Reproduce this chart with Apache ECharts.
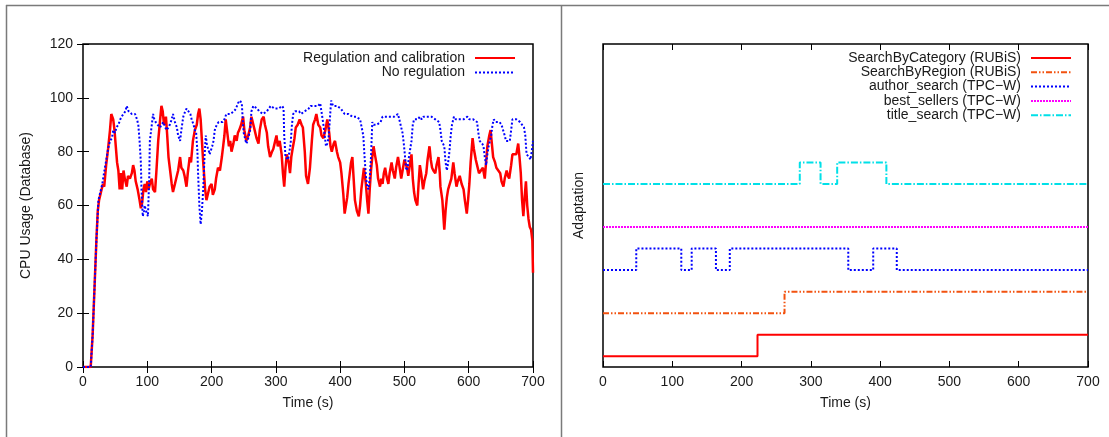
<!DOCTYPE html>
<html>
<head>
<meta charset="utf-8">
<title>CPU usage and adaptation</title>
<script src="https://cdn.jsdelivr.net/npm/echarts@6/dist/echarts.min.js"></script>
<style>
  html, body { margin: 0; padding: 0; background: #fff; }
  #chart { width: 1109px; height: 437px; }
</style>
</head>
<body>
<div id="chart"></div>
<script>
// x ticks shared by both panels
const timeTicks = [0, 100, 200, 300, 400, 500, 600, 700];

// left panel: CPU usage of the database, [time (s), usage]
const regulationCpu = [
  [0,0],[5,0],[12,0],[15,12],[18,30],[21,48],[23,58],[25,62],[28,65],[31,68],[33,67],[36,75],[39,81],[42,88],[44,94],[47,92],[49,88],[51,82],[53,76],[55,73],[57,66],[59,72],[61,66],[63,73],[65,70],[68,67],[70,71],[73,70],[76,72],[78,75],[80,73],[82,69],[85,66],[88,62],[90,59],[92,61],[94,66],[96,68],[98,65],[100,69],[102,66],[104,68],[107,70],[109,66],[112,65],[114,72],[117,84],[120,92],[122,97],[124,95],[126,90],[129,93],[131,86],[133,78],[136,72],[138,68],[140,65],[143,68],[145,70],[148,73],[151,78],[153,74],[156,73],[158,71],[161,67],[163,72],[166,78],[168,76],[171,84],[174,88],[177,90],[179,94],[181,96],[183,92],[185,84],[187,76],[190,66],[192,62],[194,64],[197,67],[200,68],[202,64],[205,66],[207,70],[210,74],[213,73],[216,78],[218,82],[220,86],[222,92],[224,88],[227,82],[229,84],[231,80],[234,83],[236,86],[239,84],[241,87],[243,88],[246,90],[249,93],[251,88],[254,84],[257,86],[260,89],[262,93],[265,90],[267,88],[270,85],[273,83],[275,88],[278,92],[281,93],[283,90],[286,87],[288,82],[291,78],[294,80],[296,81],[299,84],[301,86],[303,82],[306,84],[309,79],[311,72],[313,67],[315,74],[317,79],[320,76],[322,72],[324,78],[326,81],[329,85],[331,89],[334,90],[337,92],[340,90],[342,89],[345,80],[347,71],[350,68],[353,74],[356,84],[358,90],[361,92],[363,94],[366,90],[369,89],[371,86],[374,85],[377,88],[380,92],[383,87],[385,82],[387,80],[390,83],[392,84],[395,80],[397,78],[400,76],[402,72],[405,64],[407,57],[409,60],[411,63],[413,68],[415,72],[417,76],[419,78],[421,70],[423,62],[426,58],[429,56],[431,60],[433,66],[435,70],[437,74],[440,68],[442,62],[444,57],[446,66],[448,73],[450,78],[452,82],[454,79],[457,75],[459,70],[462,67],[464,70],[466,68],[468,72],[470,74],[472,71],[475,68],[477,72],[480,76],[482,73],[485,70],[487,74],[490,78],[492,75],[495,70],[497,70],[500,77],[502,77],[504,74],[506,71],[509,76],[511,79],[513,70],[515,65],[517,62],[520,60],[522,68],[524,75],[526,72],[529,66],[531,69],[534,72],[536,77],[539,82],[541,77],[543,74],[545,73],[548,72],[550,75],[553,78],[555,72],[556,67],[559,62],[562,51],[564,58],[566,63],[568,66],[571,66],[573,70],[576,76],[578,72],[581,67],[583,69],[586,71],[589,68],[592,66],[594,62],[597,57],[599,62],[601,68],[603,76],[606,85],[608,81],[611,77],[613,75],[616,72],[619,73],[622,74],[625,70],[627,76],[629,82],[632,86],[634,88],[636,83],[638,78],[641,76],[643,74],[646,73],[649,72],[651,69],[654,67],[656,70],[659,73],[661,71],[663,70],[666,75],[668,79],[671,79],[674,79],[677,83],[679,78],[681,72],[683,62],[685,56],[687,63],[689,69],[691,60],[693,55],[695,52],[697,51],[699,47],[700,35]
];
const noRegulationCpu = [
  [0,0],[5,0],[12,0],[15,12],[18,30],[21,48],[24,62],[27,65],[30,68],[34,74],[37,78],[39,81],[42,84],[45,85],[47,88],[50,87],[52,89],[55,90],[58,92],[60,93],[63,94],[66,95],[68,97],[71,95],[73,95],[76,94],[79,94],[81,94],[84,92],[86,90],[88,84],[90,76],[91,66],[93,56],[95,58],[96,60],[98,58],[101,56],[103,70],[104,84],[107,90],[109,94],[111,92],[113,91],[116,90],[120,89],[122,90],[125,91],[128,89],[130,88],[133,89],[135,90],[138,92],[140,94],[143,91],[146,89],[148,86],[151,84],[153,88],[156,93],[159,95],[161,96],[164,95],[167,94],[169,92],[172,90],[174,88],[176,87],[178,80],[179,72],[181,60],[183,53],[185,58],[187,66],[189,78],[191,86],[193,82],[195,81],[197,79],[199,79],[201,82],[203,84],[205,88],[208,90],[211,91],[214,91],[217,91],[220,92],[223,94],[226,94],[229,94],[232,94],[235,95],[238,96],[241,98],[244,99],[247,98],[249,90],[250,87],[252,85],[254,83],[256,84],[258,86],[260,88],[262,95],[265,97],[268,97],[271,96],[274,95],[277,95],[280,94],[283,94],[286,95],[289,96],[292,97],[295,97],[298,96],[301,96],[304,96],[307,96],[310,97],[312,96],[313,86],[315,78],[317,78],[319,77],[321,80],[323,83],[325,90],[327,94],[330,95],[333,95],[336,95],[339,94],[342,94],[345,95],[348,95],[351,96],[354,97],[357,97],[360,97],[363,97],[366,97],[369,98],[372,98],[374,90],[376,86],[378,82],[380,83],[382,85],[384,92],[386,99],[389,97],[392,97],[395,97],[398,97],[401,96],[404,95],[407,94],[410,94],[413,94],[416,94],[419,93],[422,93],[425,93],[428,93],[431,92],[434,92],[436,86],[438,78],[440,71],[442,67],[444,66],[446,70],[448,78],[450,91],[452,90],[454,90],[457,90],[460,90],[463,91],[466,93],[469,93],[472,93],[475,93],[478,93],[481,93],[484,93],[487,93],[490,94],[493,94],[495,89],[497,87],[499,83],[501,78],[503,73],[505,74],[507,78],[509,81],[511,84],[513,90],[515,92],[518,92],[521,92],[524,93],[527,92],[530,93],[533,93],[536,93],[539,93],[542,93],[545,93],[548,92],[551,92],[554,91],[556,88],[558,84],[560,83],[562,82],[564,76],[566,73],[568,76],[570,80],[572,86],[574,90],[577,93],[580,92],[583,92],[586,92],[589,92],[592,92],[595,92],[598,93],[601,92],[604,92],[607,92],[610,92],[613,91],[615,87],[617,84],[619,84],[621,83],[623,82],[625,78],[627,75],[629,79],[631,82],[633,84],[635,86],[637,90],[639,92],[642,91],[645,91],[648,91],[651,90],[654,90],[656,86],[658,84],[661,84],[664,84],[666,88],[668,92],[671,92],[674,92],[677,92],[680,91],[683,91],[686,89],[688,86],[690,79],[692,79],[694,78],[696,77],[698,80],[700,84]
];

// right panel: adaptation switches, [time (s), level] drawn as steps
const searchByCategory = [[0,0.25],[223,0.75],[700,0.75]];
const searchByRegion = [[0,1.25],[262,1.75],[700,1.75]];
const authorSearch = [[0,2.25],[48,2.75],[113,2.25],[128,2.75],[163,2.25],[183,2.75],[354,2.25],[390,2.75],[424,2.25],[700,2.25]];
const bestSellers = [[0,3.25],[700,3.25]];
const titleSearch = [[0,4.25],[284,4.75],[314,4.25],[338,4.75],[409,4.25],[700,4.25]];

const font = "'Liberation Sans', Arial, sans-serif";
const ink = '#1a1a1a';

const chart = echarts.init(document.getElementById('chart'));

// x axis used in both panels (bottom with labels, top mirrored)
const timeAxis = (grid, pos, labels) => ({
  type: 'value', gridIndex: grid, position: pos, min: 0, max: 700, interval: 100,
  name: labels ? 'Time (s)' : '', nameLocation: 'middle', nameGap: 29,
  nameTextStyle: { color: ink, fontFamily: font, fontSize: 14 },
  axisLine: { show: false },
  axisTick: { show: true, inside: true, length: 6, lineStyle: { color: '#000', width: 1 } },
  axisLabel: { show: labels, color: ink, fontFamily: font, fontSize: 14, margin: 8,
    formatter: v => timeTicks.includes(v) ? String(v) : '' },
  splitLine: { show: false }
});

// gnuplot style key: text on the left, line sample on the right, no marker
const keyStyle = {
  orient: 'vertical', align: 'right', top: 51, padding: 0,
  itemWidth: 40, itemHeight: 14,
  itemStyle: { opacity: 0 },
  textStyle: { color: ink, fontFamily: font, fontSize: 14, lineHeight: 14, padding: [0, 5, 0, 0] },
  selectedMode: false
};

const option = {
  animation: false,
  backgroundColor: '#fff',
  graphic: [
    { type: 'line', shape: { x1: 6, y1: 5.5, x2: 1109, y2: 5.5 }, style: { stroke: '#7a7a7a', lineWidth: 1.5 } },
    { type: 'line', shape: { x1: 6.5, y1: 5, x2: 6.5, y2: 437 }, style: { stroke: '#7a7a7a', lineWidth: 1.5 } },
    { type: 'line', shape: { x1: 561.5, y1: 5, x2: 561.5, y2: 437 }, style: { stroke: '#7a7a7a', lineWidth: 1.5 } }
  ],
  grid: [
    { left: 83, top: 44, width: 450, height: 323, show: true, borderColor: '#000', borderWidth: 1.5, backgroundColor: 'transparent' },
    { left: 603, top: 44, width: 485, height: 323, show: true, borderColor: '#000', borderWidth: 1.5, backgroundColor: 'transparent' }
  ],
  legend: [
    Object.assign({}, keyStyle, {
      data: ['Regulation and calibration', 'No regulation'],
      right: 593, itemGap: 0.6
    }),
    Object.assign({}, keyStyle, {
      data: ['SearchByCategory (RUBiS)', 'SearchByRegion (RUBiS)', 'author_search (TPC\u2212W)', 'best_sellers (TPC\u2212W)', 'title_search (TPC\u2212W)'],
      right: 37, itemGap: 0.3
    })
  ],
  xAxis: [
    timeAxis(0, 'bottom', true),
    timeAxis(0, 'top', false),
    timeAxis(1, 'bottom', true),
    timeAxis(1, 'top', false)
  ],
  yAxis: [
    {
      type: 'value', gridIndex: 0, position: 'left', min: 0, max: 120, interval: 20,
      name: 'CPU Usage (Database)', nameLocation: 'middle', nameGap: 50,
      nameTextStyle: { color: ink, fontFamily: font, fontSize: 14 },
      axisLine: { show: false },
      axisTick: { show: true, inside: true, length: 6, lineStyle: { color: '#000', width: 1 } },
      axisLabel: { color: ink, fontFamily: font, fontSize: 14, margin: 10 },
      splitLine: { show: false }
    },
    {
      type: 'value', gridIndex: 0, position: 'right', min: 0, max: 120, interval: 20,
      axisLine: { show: false },
      axisTick: { show: true, inside: true, length: 6, lineStyle: { color: '#000', width: 1 } },
      axisLabel: { show: false },
      splitLine: { show: false }
    },
    {
      type: 'value', gridIndex: 1, min: 0, max: 7.5,
      name: 'Adaptation', nameLocation: 'middle', nameGap: 17,
      nameTextStyle: { color: ink, fontFamily: font, fontSize: 14 },
      axisLine: { show: false }, axisTick: { show: false }, axisLabel: { show: false },
      splitLine: { show: false }
    }
  ],
  series: [
    {
      name: 'Regulation and calibration', type: 'line', xAxisIndex: 0, yAxisIndex: 0,
      data: regulationCpu, symbol: 'none', z: 3,
      lineStyle: { color: '#ff0000', width: 2.5 }, itemStyle: { color: '#ff0000' }
    },
    {
      name: 'No regulation', type: 'line', xAxisIndex: 0, yAxisIndex: 0,
      data: noRegulationCpu, symbol: 'none', z: 4,
      lineStyle: { color: '#0000ff', width: 2, type: [2, 2] }, itemStyle: { color: '#0000ff' }
    },
    {
      name: 'SearchByCategory (RUBiS)', type: 'line', step: 'end', xAxisIndex: 2, yAxisIndex: 2,
      data: searchByCategory, symbol: 'none',
      lineStyle: { color: '#ff0000', width: 2 }, itemStyle: { color: '#ff0000' }
    },
    {
      name: 'SearchByRegion (RUBiS)', type: 'line', step: 'end', xAxisIndex: 2, yAxisIndex: 2,
      data: searchByRegion, symbol: 'none',
      lineStyle: { color: '#f2520f', width: 2, type: [6, 2, 1.5, 2, 1.5, 2] }, itemStyle: { color: '#f2520f' }
    },
    {
      name: 'author_search (TPC\u2212W)', type: 'line', step: 'end', xAxisIndex: 2, yAxisIndex: 2,
      data: authorSearch, symbol: 'none',
      lineStyle: { color: '#0000ff', width: 2, type: [2, 2] }, itemStyle: { color: '#0000ff' }
    },
    {
      name: 'best_sellers (TPC\u2212W)', type: 'line', step: 'end', xAxisIndex: 2, yAxisIndex: 2,
      data: bestSellers, symbol: 'none',
      lineStyle: { color: '#ff00ff', width: 2, type: [2, 1] }, itemStyle: { color: '#ff00ff' }
    },
    {
      name: 'title_search (TPC\u2212W)', type: 'line', step: 'end', xAxisIndex: 2, yAxisIndex: 2,
      data: titleSearch, symbol: 'none',
      lineStyle: { color: '#00e0e8', width: 2, type: [7, 2, 1.5, 2] }, itemStyle: { color: '#00e0e8' }
    }
  ]
};

chart.setOption(option);
</script>
</body>
</html>
